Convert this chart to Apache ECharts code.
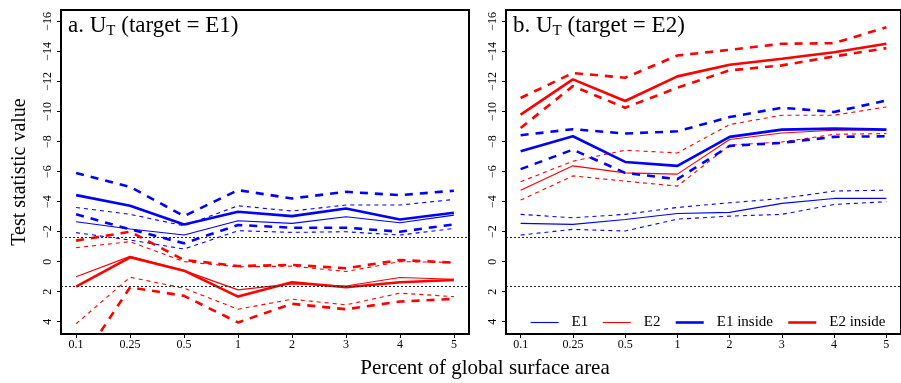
<!DOCTYPE html>
<html>
<head>
<meta charset="utf-8">
<script src="https://cdn.jsdelivr.net/npm/echarts@6/dist/echarts.min.js"></script>
<style>
html,body{margin:0;padding:0;background:#fff;}
#chart{width:901px;height:383px;}
</style>
</head>
<body>
<div id="chart"></div>
<script>
// ---- data ----
const categories = ['0.1','0.25','0.5','1','2','3','4','5'];
const yTicks = [-16,-14,-12,-10,-8,-6,-4,-2,0,2,4];
const critLines = [-1.645, 1.645];
const legendNames = ['E1','E2','E1 inside','E2 inside'];

// Panel a (target = E1)
const a_E1      = [-2.66,-2.17,-1.77,-2.72,-2.55,-2.99,-2.59,-3.10];
const a_E1_hi   = [-3.61,-3.15,-2.39,-3.72,-3.37,-3.77,-3.77,-4.14];
const a_E1_lo   = [-1.93,-1.44,-0.84,-2.06,-1.95,-1.99,-1.77,-2.21];
const a_E1in    = [-4.43,-3.72,-2.48,-3.32,-3.03,-3.54,-2.81,-3.26];
const a_E1in_hi = [-5.91,-4.98,-3.03,-4.76,-4.21,-4.65,-4.43,-4.72];
const a_E1in_lo = [-3.15,-2.15,-1.22,-2.44,-2.26,-2.26,-1.99,-2.48];
const a_E2      = [1.00,-0.35,0.60,1.88,1.48,1.62,1.06,1.17];
const a_E2_hi   = [-0.93,-1.33,0.00,0.35,0.30,0.66,0.00,0.05];
const a_E2_lo   = [4.14,1.04,1.77,3.17,2.50,2.88,2.10,2.33];
const a_E2in    = [1.66,-0.29,0.60,2.33,1.37,1.71,1.37,1.22];
const a_E2in_hi = [-1.40,-1.99,-0.11,0.29,0.22,0.44,-0.11,0.07];
const a_E2in_lo = [7.14,1.71,2.28,4.05,2.81,3.17,2.66,2.48];

// Panel b (target = E2)
const b_E1      = [-2.55,-2.48,-2.81,-3.21,-3.28,-3.88,-4.21,-4.21];
const b_E1_hi   = [-3.15,-2.92,-3.15,-3.61,-3.92,-4.21,-4.70,-4.76];
const b_E1_lo   = [-1.77,-2.15,-2.04,-2.83,-3.03,-3.15,-3.81,-3.99];
const b_E1in    = [-7.35,-8.35,-6.64,-6.38,-8.31,-8.79,-8.86,-8.79];
const b_E1in_hi = [-8.42,-8.82,-8.53,-8.68,-9.63,-10.25,-9.97,-10.74];
const b_E1in_lo = [-6.16,-7.46,-5.91,-5.49,-7.71,-7.91,-8.31,-8.35];
const b_E2      = [-4.76,-6.38,-5.91,-5.83,-8.13,-8.57,-8.75,-8.79];
const b_E2_hi   = [-5.32,-6.69,-7.42,-7.24,-9.13,-9.75,-9.75,-10.30];
const b_E2_lo   = [-4.10,-5.71,-5.36,-5.03,-7.75,-7.97,-8.48,-8.53];
const b_E2in    = [-9.79,-12.14,-10.70,-12.34,-13.11,-13.51,-13.95,-14.51];
const b_E2in_hi = [-10.90,-12.56,-12.25,-13.73,-14.11,-14.51,-14.55,-15.61];
const b_E2in_lo = [-8.90,-11.69,-10.25,-11.58,-12.74,-13.07,-13.67,-14.22];

// ---- styling / build ----
const FONT = '"Liberation Serif","DejaVu Serif",serif';
const BLUE = '#0000ff', RED = '#ff0000';
const THIN = 1.1, THICK = 2.6;
const DASH_THIN = [4,4], DASH_THICK = [8,7];

function pts(arr){ return arr.map((v,i)=>[i,v]); }
function line(name, arr, color, width, dash, idx){
  return {
    type:'line', name:name, data:pts(arr), xAxisIndex:idx, yAxisIndex:idx,
    symbol:'none', showSymbol:false, silent:true, clip:true, z: width>2?4:3,
    lineStyle:{color:color, width:width, type:dash||'solid'},
    itemStyle:{color:color}
  };
}
function panel(d, idx){
  const s = [
    line('E1', d.E1, BLUE, THIN, null, idx),
    line('E1 hi '+idx, d.E1_hi, BLUE, THIN, DASH_THIN, idx),
    line('E1 lo '+idx, d.E1_lo, BLUE, THIN, DASH_THIN, idx),
    line('E2', d.E2, RED, THIN, null, idx),
    line('E2 hi '+idx, d.E2_hi, RED, THIN, DASH_THIN, idx),
    line('E2 lo '+idx, d.E2_lo, RED, THIN, DASH_THIN, idx),
    line('E1 inside', d.E1in, BLUE, THICK, null, idx),
    line('E1in hi '+idx, d.E1in_hi, BLUE, THICK, DASH_THICK, idx),
    line('E1in lo '+idx, d.E1in_lo, BLUE, THICK, DASH_THICK, idx),
    line('E2 inside', d.E2in, RED, THICK, null, idx),
    line('E2in hi '+idx, d.E2in_hi, RED, THICK, DASH_THICK, idx),
    line('E2in lo '+idx, d.E2in_lo, RED, THICK, DASH_THICK, idx)
  ];
  s[0].markLine = {
    silent:true, symbol:['none','none'], animation:false,
    label:{show:false},
    lineStyle:{color:'#222', width:1, type:[2,2]},
    data: critLines.map(v=>({yAxis:v}))
  };
  return s;
}
const series = [].concat(
  panel({E1:a_E1,E1_hi:a_E1_hi,E1_lo:a_E1_lo,E2:a_E2,E2_hi:a_E2_hi,E2_lo:a_E2_lo,
         E1in:a_E1in,E1in_hi:a_E1in_hi,E1in_lo:a_E1in_lo,E2in:a_E2in,E2in_hi:a_E2in_hi,E2in_lo:a_E2in_lo},0),
  panel({E1:b_E1,E1_hi:b_E1_hi,E1_lo:b_E1_lo,E2:b_E2,E2_hi:b_E2_hi,E2_lo:b_E2_lo,
         E1in:b_E1in,E1in_hi:b_E1in_hi,E1in_lo:b_E1in_lo,E2in:b_E2in,E2in_hi:b_E2in_hi,E2in_lo:b_E2in_lo},1)
);

const xIdx = categories.map((c,i)=>i);
function xAxis(i){
  return {
    type:'value', gridIndex:i, min:-0.28, max:7.28, position:'bottom',
    axisLine:{show:false, onZero:false},
    axisTick:{show:true, inside:false, customValues:xIdx, length:4, lineStyle:{color:'#000',width:1}},
    axisLabel:{customValues:xIdx, formatter:v=>categories[Math.round(v)], color:'#000',
               fontFamily:FONT, fontSize:12, margin:5},
    splitLine:{show:false}
  };
}
function yAxis(i){
  const o = {
    type:'value', gridIndex:i, inverse:true, min:-16.76, max:4.82, position:'left',
    axisLine:{show:false, onZero:false},
    axisTick:{show:true, inside:false, customValues:yTicks, length:4, lineStyle:{color:'#000',width:1}},
    axisLabel:{customValues:yTicks, rotate:90, formatter:v=>String(v).replace('-','\u2212'),
               color:'#000', fontFamily:FONT, fontSize:12, margin:7},
    splitLine:{show:false}
  };
  if(i===0){
    o.name = 'Test statistic value';
    o.nameLocation = 'middle';
    o.nameRotate = 90;
    o.nameGap = 31;
    o.nameTextStyle = {color:'#000', fontFamily:FONT, fontSize:20};
  }
  return o;
}

const richStyle = {
  m:{fontFamily:FONT, fontSize:23, color:'#000', lineHeight:26},
  sub:{fontFamily:FONT, fontSize:15, color:'#000', lineHeight:14, verticalAlign:'bottom'}
};

const option = {
  animation:false,
  backgroundColor:'#fff',
  grid:[
    {left:61, top:10, width:408, height:324, show:true, borderColor:'#000', borderWidth:2, backgroundColor:'transparent'},
    {left:506, top:10, width:408, height:324, show:true, borderColor:'#000', borderWidth:2, backgroundColor:'transparent'}
  ],
  xAxis:[xAxis(0), xAxis(1)],
  yAxis:[yAxis(0), yAxis(1)],
  legend:{
    data: legendNames.map(n=>({name:n, lineStyle:{width: /inside/.test(n) ? THICK : THIN}})),
    left:530, top:315, orient:'horizontal', padding:0,
    itemWidth:28, itemHeight:14, itemGap:14,
    itemStyle:{opacity:0},
    textStyle:{color:'#000', fontFamily:FONT, fontSize:15, padding:[0,0,0,8]},
    selectedMode:false
  },
  graphic:[
    {type:'text', left:68, top:14, silent:true,
     style:{text:'{m|a. U}{sub|T}{m| (target = E1)}', rich:richStyle}},
    {type:'text', left:513, top:14, silent:true,
     style:{text:'{m|b. U}{sub|T}{m| (target = E2)}', rich:richStyle}},
    {type:'text', x:485, y:368, silent:true,
     style:{text:'Percent of global surface area', fontFamily:FONT, fontSize:21, fill:'#000',
            align:'center', verticalAlign:'middle'}}
  ],
  series:series
};
const chart = echarts.init(document.getElementById('chart'), null, {renderer:'canvas'});
chart.setOption(option);
</script>
</body>
</html>
